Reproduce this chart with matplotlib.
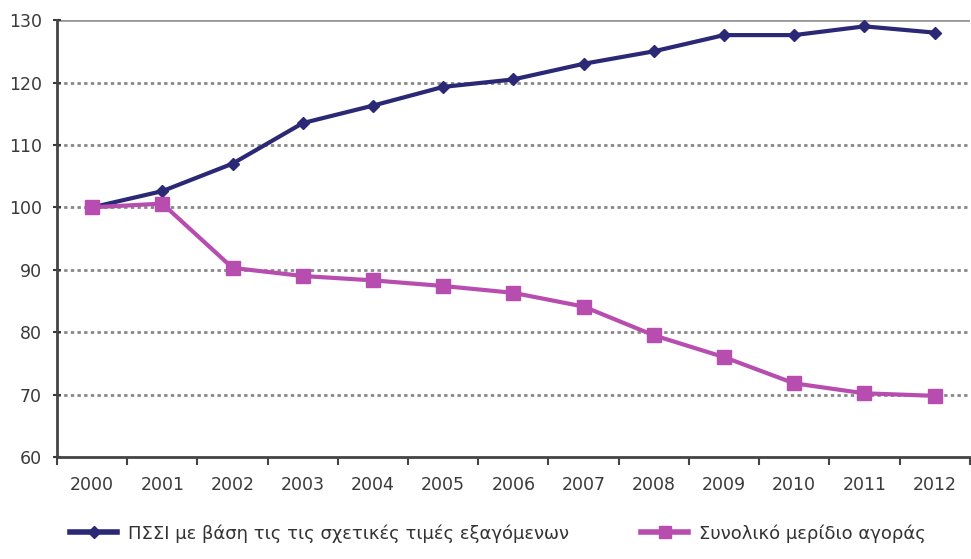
import matplotlib.pyplot as plt
from matplotlib.lines import Line2D

years = ['2000', '2001', '2002', '2003', '2004', '2005', '2006',
         '2007', '2008', '2009', '2010', '2011', '2012']
pssi = [100, 102.6, 107, 113.5, 116.3, 119.3, 120.5, 123, 125, 127.6, 127.6, 129, 128]
market_share = [100, 100.6, 90.3, 89, 88.3, 87.4, 86.3, 84.1, 79.5, 76, 71.8, 70.2, 69.8]
labels = ['ΠΣΣΙ με βάση τις τις σχετικές τιμές εξαγόμενων', 'Συνολικό μερίδιο αγοράς']

blue = '#2b2875'
pink = '#b84db0'

plt.rcParams['font.family'] = ['DejaVu Sans']

fig = plt.figure(figsize=(9.71, 5.59), dpi=100)
ax = fig.add_axes([0.0587, 0.1825, 0.94, 0.7815])

x = list(range(len(years)))
ax.plot(x, pssi, color=blue, linewidth=3, marker='D', markersize=6, label=labels[0])
ax.plot(x, market_share, color=pink, linewidth=3, marker='s', markersize=10, label=labels[1])

ax.set_xlim(-0.5, len(years) - 0.5)
ax.set_ylim(60, 130)
ax.set_yticks(range(60, 131, 10))
ax.set_xticks(x)
ax.set_xticklabels(years)
ax.set_xticks([i - 0.5 for i in range(len(years) + 1)], minor=True)
ax.tick_params(axis='x', which='major', length=0, pad=14, labelsize=12.5, colors='#3a3a3a')
ax.tick_params(axis='x', which='minor', length=6, width=1.5, direction='out', color='#444444')
ax.tick_params(axis='y', length=6, width=1.5, direction='inout', labelsize=12.5, colors='#3a3a3a', pad=8)

for v in range(70, 130, 10):
    ax.axhline(v, color='#888888', linestyle=(0, (1.2, 1.2)), linewidth=2, zorder=0)
ax.axhline(130, color='#999999', linewidth=2, zorder=0)

for s in ['top', 'right']:
    ax.spines[s].set_visible(False)
for s in ['left', 'bottom']:
    ax.spines[s].set_color('#444444')
    ax.spines[s].set_linewidth(2)

handles = [Line2D([], [], color=blue, linewidth=4, marker='D', markersize=6),
           Line2D([], [], color=pink, linewidth=4, marker='s', markersize=8)]
fig.legend(handles, labels, loc='lower center', bbox_to_anchor=(0.513, 0.0), ncol=2,
           frameon=False, fontsize=13, handlelength=2.6, handletextpad=0.6,
           columnspacing=4, labelcolor='#333333')

fig.savefig('out.png', dpi=100)
